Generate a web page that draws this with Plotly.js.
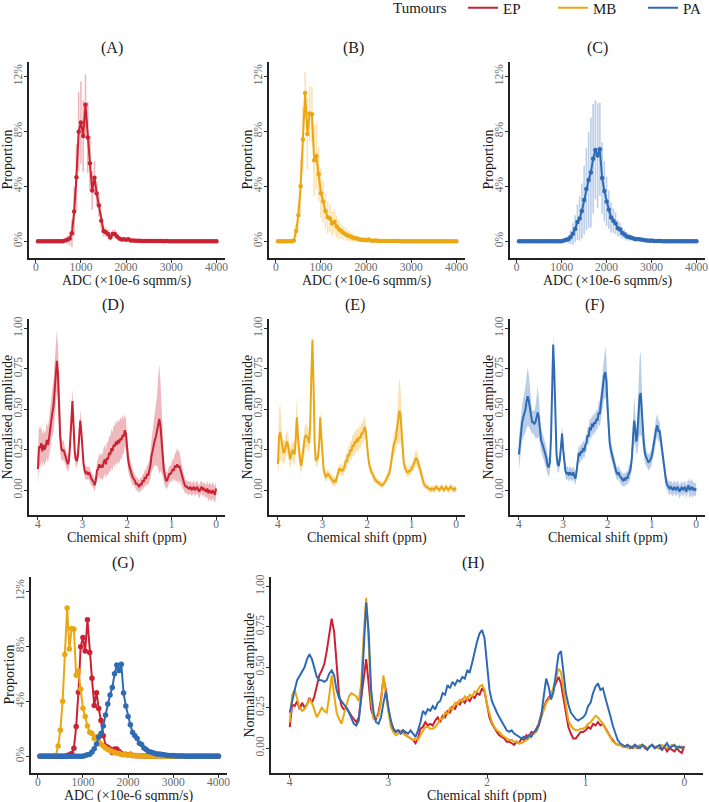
<!DOCTYPE html>
<html>
<head>
<meta charset="utf-8">
<script src="https://cdn.plot.ly/plotly-3.0.1.min.js"></script>
<style>
  html, body { margin: 0; padding: 0; background: #fff; }
  #chart { width: 709px; height: 802px; }
</style>
</head>
<body>
<div id="chart"></div>
<script>
// ---------- ADC histograms: bin centres (x10e-6 sqmm/s) ----------
const adcBins = Array.from({ length: 80 }, (_, i) => 50 * (i + 1));

// mean proportion per bin (%) and its spread (%), one row = 10 bins
const adcEP = [
  0, 0, 0, 0, 0, 0, 0, 0, 0, 0,
  0, 0, 0.05, 0.1, 0.2, 0.58, 2.16, 4.65, 7.98, 8.65,
  7.66, 9.94, 7.56, 5.67, 3.70, 4.63, 3.47, 2.60, 1.50, 0.75,
  0.65, 0.53, 0.27, 0.53, 0.53, 0.34, 0.20, 0.12, 0.15, 0.10,
  0.15, 0.06, 0.05, 0.04, 0.03, 0.03, 0.02, 0.02, 0.01, 0.01,
  0.01, 0.01, 0.01, 0.01, 0.02, 0.01, 0, 0.01, 0, 0,
  0, 0, 0, 0, 0, 0, 0, 0, 0, 0,
  0, 0, 0, 0, 0, 0, 0, 0, 0, 0
];
const adcEPsd = [
  0, 0, 0, 0, 0, 0, 0, 0, 0, 0,
  0, 0, 0.1, 0.3, 0.5, 1.0, 1.8, 2.4, 2.9, 3.0,
  2.6, 2.2, 2.6, 2.0, 1.4, 1.2, 0.9, 0.8, 0.6, 0.4,
  0.35, 0.3, 0.2, 0.3, 0.3, 0.2, 0.15, 0.1, 0.1, 0.1,
  0.1, 0.05, 0.05, 0.04, 0.03, 0.03, 0.02, 0.02, 0.01, 0.01,
  0.01, 0.01, 0.01, 0.01, 0.02, 0.01, 0, 0.01, 0, 0,
  0, 0, 0, 0, 0, 0, 0, 0, 0, 0,
  0, 0, 0, 0, 0, 0, 0, 0, 0, 0
];
const adcMB = [
  0, 0, 0, 0, 0, 0, 0, 0.05, 0.75, 1.9,
  4.0, 7.4, 10.8, 7.8, 9.3, 9.25, 5.9, 6.2, 4.9, 3.5,
  2.9, 2.2, 1.75, 1.65, 1.3, 1.42, 1.07, 0.87, 0.75, 0.6,
  0.5, 0.42, 0.35, 0.28, 0.22, 0.2, 0.13, 0.1, 0.1, 0.08,
  0.12, 0.05, 0.04, 0.05, 0.03, 0.02, 0.02, 0.02, 0.01, 0.01,
  0.01, 0.01, 0.01, 0.01, 0.01, 0, 0, 0, 0, 0,
  0, 0, 0, 0, 0, 0, 0, 0, 0, 0,
  0, 0, 0, 0, 0, 0, 0, 0, 0, 0
];
const adcMBsd = [
  0, 0, 0, 0, 0, 0, 0, 0.1, 0.5, 1.0,
  2.0, 2.4, 1.5, 2.6, 2.0, 2.0, 2.6, 2.4, 2.0, 1.8,
  1.5, 1.3, 1.2, 1.0, 0.9, 0.9, 0.8, 0.7, 0.6, 0.5,
  0.45, 0.4, 0.35, 0.3, 0.25, 0.2, 0.15, 0.12, 0.1, 0.1,
  0.1, 0.05, 0.05, 0.05, 0.03, 0.02, 0.02, 0.02, 0.01, 0.01,
  0.01, 0.01, 0.01, 0.01, 0.01, 0, 0, 0, 0, 0,
  0, 0, 0, 0, 0, 0, 0, 0, 0, 0,
  0, 0, 0, 0, 0, 0, 0, 0, 0, 0
];
const adcPA = [
  0, 0, 0, 0, 0, 0, 0, 0, 0, 0,
  0, 0, 0, 0, 0, 0, 0, 0, 0, 0,
  0.05, 0.1, 0.15, 0.3, 0.55, 0.9, 1.4, 1.65, 2.2, 3.0,
  3.8, 4.45, 5.0, 6.0, 6.65, 6.25, 6.7, 4.6, 3.65, 2.9,
  2.3, 1.73, 1.5, 1.3, 0.95, 0.85, 0.6, 0.5, 0.35, 0.3,
  0.25, 0.2, 0.15, 0.17, 0.12, 0.1, 0.07, 0.05, 0.03, 0.05,
  0.02, 0.01, 0.01, 0.01, 0, 0, 0, 0, 0, 0,
  0, 0, 0, 0, 0, 0, 0, 0, 0, 0
];
const adcPAsd = [
  0, 0, 0, 0, 0, 0, 0, 0, 0, 0,
  0, 0, 0, 0, 0, 0, 0, 0, 0, 0,
  0.1, 0.2, 0.3, 0.5, 0.8, 1.0, 1.3, 1.6, 2.0, 2.5,
  3.0, 3.5, 4.0, 4.0, 3.6, 3.8, 3.4, 2.6, 2.2, 1.8,
  1.4, 1.1, 0.9, 0.8, 0.6, 0.5, 0.4, 0.35, 0.3, 0.25,
  0.2, 0.15, 0.12, 0.12, 0.1, 0.08, 0.06, 0.05, 0.03, 0.04,
  0.02, 0.01, 0.01, 0.01, 0, 0, 0, 0, 0, 0,
  0, 0, 0, 0, 0, 0, 0, 0, 0, 0
];
const adcTickText = ['0%', '4%', '8%', '12%'];

// ---------- MR spectra: chemical shift grid (ppm), 4.0 -> 0.0 ----------
const shiftPpm = Array.from({ length: 161 }, (_, i) => +(4 - 0.025 * i).toFixed(3));

// mean normalised amplitude, one row = 0.25 ppm
const specEP = [
  0.13, 0.27, 0.26, 0.29, 0.24, 0.28, 0.25, 0.27, 0.31, 0.28,
  0.32, 0.38, 0.45, 0.48, 0.52, 0.60, 0.70, 0.80, 0.72, 0.52,
  0.33, 0.26, 0.24, 0.25, 0.22, 0.20, 0.18, 0.16, 0.19, 0.30,
  0.42, 0.55, 0.40, 0.24, 0.19, 0.18, 0.22, 0.30, 0.43, 0.36,
  0.24, 0.16, 0.12, 0.10, 0.11, 0.10, 0.11, 0.08, 0.07, 0.06,
  0.05, 0.03, 0.06, 0.12, 0.13, 0.16, 0.14, 0.15, 0.14, 0.17,
  0.19, 0.16, 0.20, 0.19, 0.23, 0.22, 0.26, 0.24, 0.28, 0.27,
  0.30, 0.28, 0.31, 0.29, 0.32, 0.31, 0.34, 0.33, 0.37, 0.35,
  0.26, 0.19, 0.15, 0.12, 0.10, 0.08, 0.07, 0.06, 0.04, 0.04,
  0.03, 0.02, 0.04, 0.03, 0.06, 0.05, 0.08, 0.07, 0.10, 0.09,
  0.12, 0.15, 0.21, 0.25, 0.29, 0.31, 0.33, 0.37, 0.41, 0.44,
  0.40, 0.30, 0.21, 0.13, 0.09, 0.06, 0.06, 0.08, 0.10, 0.10,
  0.11, 0.13, 0.12, 0.15, 0.14, 0.16, 0.14, 0.15, 0.12, 0.09,
  0.07, 0.05, 0.03, 0.02, 0.02, 0.01, 0.01, 0.02, 0.00, 0.01,
  0.02, 0.00, 0.01, 0.02, 0.00, -0.01, 0.01, 0.02, 0.00, 0.01,
  0.00, -0.01, 0.01, -0.02, 0.00, -0.01, -0.02, 0.00, -0.02, -0.03,
  0.01
];
const specEPsd = [
  0.10, 0.12, 0.12, 0.11, 0.10, 0.10, 0.10, 0.10, 0.11, 0.11,
  0.12, 0.13, 0.14, 0.15, 0.16, 0.17, 0.18, 0.19, 0.17, 0.14,
  0.10, 0.07, 0.06, 0.06, 0.05, 0.05, 0.05, 0.05, 0.05, 0.06,
  0.07, 0.08, 0.07, 0.05, 0.04, 0.04, 0.05, 0.06, 0.07, 0.06,
  0.05, 0.04, 0.04, 0.04, 0.04, 0.04, 0.04, 0.04, 0.04, 0.04,
  0.04, 0.04, 0.04, 0.05, 0.06, 0.07, 0.07, 0.08, 0.08, 0.09,
  0.09, 0.09, 0.10, 0.10, 0.11, 0.11, 0.12, 0.12, 0.12, 0.13,
  0.13, 0.13, 0.13, 0.13, 0.13, 0.12, 0.12, 0.11, 0.10, 0.09,
  0.08, 0.07, 0.06, 0.06, 0.05, 0.05, 0.04, 0.04, 0.04, 0.04,
  0.04, 0.04, 0.04, 0.04, 0.04, 0.05, 0.05, 0.05, 0.06, 0.06,
  0.07, 0.08, 0.10, 0.12, 0.14, 0.16, 0.18, 0.22, 0.28, 0.34,
  0.28, 0.20, 0.12, 0.08, 0.06, 0.05, 0.05, 0.05, 0.05, 0.05,
  0.06, 0.06, 0.07, 0.08, 0.09, 0.10, 0.10, 0.09, 0.08, 0.07,
  0.06, 0.05, 0.05, 0.04, 0.04, 0.04, 0.04, 0.04, 0.04, 0.04,
  0.04, 0.04, 0.04, 0.04, 0.04, 0.04, 0.04, 0.04, 0.04, 0.04,
  0.04, 0.04, 0.05, 0.05, 0.05, 0.05, 0.05, 0.05, 0.05, 0.05,
  0.05
];
const specMB = [
  0.16, 0.33, 0.36, 0.31, 0.25, 0.23, 0.24, 0.27, 0.30, 0.28,
  0.24, 0.19, 0.22, 0.25, 0.23, 0.22, 0.32, 0.45, 0.33, 0.22,
  0.18, 0.15, 0.21, 0.27, 0.32, 0.34, 0.33, 0.32, 0.29, 0.40,
  0.70, 0.93, 0.66, 0.29, 0.18, 0.19, 0.20, 0.28, 0.45, 0.33,
  0.22, 0.13, 0.10, 0.08, 0.09, 0.10, 0.09, 0.08, 0.07, 0.06,
  0.05, 0.06, 0.05, 0.08, 0.11, 0.13, 0.13, 0.12, 0.12, 0.13,
  0.15, 0.18, 0.18, 0.22, 0.21, 0.25, 0.24, 0.28, 0.27, 0.30,
  0.29, 0.32, 0.30, 0.33, 0.32, 0.35, 0.35, 0.38, 0.39, 0.36,
  0.27, 0.21, 0.16, 0.13, 0.11, 0.10, 0.08, 0.07, 0.06, 0.05,
  0.05, 0.04, 0.04, 0.03, 0.03, 0.04, 0.05, 0.06, 0.08, 0.09,
  0.10, 0.14, 0.19, 0.24, 0.28, 0.30, 0.32, 0.38, 0.44, 0.49,
  0.47, 0.36, 0.25, 0.17, 0.14, 0.12, 0.11, 0.11, 0.12, 0.12,
  0.13, 0.15, 0.16, 0.18, 0.20, 0.19, 0.17, 0.15, 0.12, 0.09,
  0.06, 0.04, 0.03, 0.02, 0.02, 0.01, 0.01, 0.00, 0.01, 0.01,
  0.00, 0.01, 0.02, 0.01, 0.01, 0.00, 0.01, 0.02, 0.01, 0.00,
  0.01, 0.02, 0.01, 0.00, 0.01, 0.02, 0.01, 0.01, 0.00, 0.01,
  0.00
];
const specMBsd = [
  0.08, 0.16, 0.18, 0.12, 0.08, 0.07, 0.07, 0.07, 0.07, 0.07,
  0.06, 0.06, 0.06, 0.06, 0.06, 0.07, 0.10, 0.14, 0.10, 0.07,
  0.06, 0.05, 0.06, 0.07, 0.07, 0.07, 0.07, 0.07, 0.06, 0.06,
  0.06, 0.05, 0.05, 0.04, 0.04, 0.04, 0.04, 0.04, 0.05, 0.04,
  0.04, 0.03, 0.03, 0.03, 0.03, 0.03, 0.03, 0.03, 0.03, 0.03,
  0.03, 0.03, 0.03, 0.03, 0.03, 0.03, 0.03, 0.03, 0.04, 0.04,
  0.04, 0.05, 0.05, 0.05, 0.06, 0.06, 0.06, 0.06, 0.07, 0.07,
  0.07, 0.07, 0.07, 0.07, 0.07, 0.07, 0.07, 0.07, 0.07, 0.06,
  0.05, 0.04, 0.04, 0.03, 0.03, 0.03, 0.03, 0.03, 0.02, 0.02,
  0.02, 0.02, 0.02, 0.02, 0.02, 0.02, 0.02, 0.02, 0.03, 0.03,
  0.03, 0.04, 0.05, 0.06, 0.07, 0.07, 0.08, 0.10, 0.15, 0.21,
  0.17, 0.10, 0.06, 0.04, 0.03, 0.03, 0.03, 0.03, 0.03, 0.03,
  0.03, 0.03, 0.04, 0.04, 0.05, 0.05, 0.04, 0.04, 0.03, 0.03,
  0.03, 0.03, 0.02, 0.02, 0.02, 0.02, 0.02, 0.02, 0.02, 0.02,
  0.02, 0.02, 0.02, 0.02, 0.02, 0.02, 0.02, 0.02, 0.02, 0.02,
  0.02, 0.02, 0.02, 0.02, 0.02, 0.02, 0.02, 0.02, 0.02, 0.02,
  0.02
];
const specPA = [
  0.22, 0.30, 0.36, 0.42, 0.45, 0.47, 0.50, 0.55, 0.58, 0.55,
  0.50, 0.44, 0.42, 0.42, 0.41, 0.42, 0.46, 0.48, 0.45, 0.36,
  0.31, 0.29, 0.27, 0.25, 0.22, 0.19, 0.15, 0.14, 0.17, 0.32,
  0.62, 0.90, 0.72, 0.36, 0.22, 0.16, 0.15, 0.19, 0.28, 0.35,
  0.25, 0.17, 0.12, 0.10, 0.11, 0.09, 0.11, 0.10, 0.09, 0.11,
  0.09, 0.07, 0.11, 0.16, 0.23, 0.21, 0.24, 0.23, 0.26, 0.24,
  0.28, 0.29, 0.34, 0.33, 0.39, 0.37, 0.41, 0.39, 0.42, 0.41,
  0.44, 0.43, 0.48, 0.47, 0.53, 0.60, 0.66, 0.71, 0.73, 0.68,
  0.52, 0.36, 0.29, 0.25, 0.22, 0.19, 0.16, 0.13, 0.11, 0.10,
  0.11, 0.09, 0.08, 0.07, 0.06, 0.07, 0.06, 0.08, 0.07, 0.10,
  0.11, 0.14, 0.20, 0.32, 0.43, 0.38, 0.30, 0.35, 0.47, 0.58,
  0.60, 0.46, 0.34, 0.27, 0.22, 0.20, 0.18, 0.17, 0.18, 0.19,
  0.21, 0.26, 0.28, 0.34, 0.38, 0.40, 0.36, 0.37, 0.31, 0.26,
  0.20, 0.14, 0.09, 0.05, 0.03, 0.02, 0.01, 0.02, 0.01, 0.00,
  0.02, 0.01, 0.00, 0.02, 0.01, -0.01, 0.01, 0.02, 0.00, 0.01,
  0.02, -0.01, 0.01, 0.03, 0.00, 0.01, 0.02, 0.00, 0.01, 0.00,
  0.01
];
const specPAsd = [
  0.10, 0.10, 0.10, 0.11, 0.12, 0.13, 0.14, 0.16, 0.18, 0.16,
  0.12, 0.08, 0.07, 0.07, 0.08, 0.10, 0.14, 0.16, 0.12, 0.08,
  0.07, 0.07, 0.07, 0.07, 0.07, 0.07, 0.06, 0.06, 0.06, 0.06,
  0.06, 0.06, 0.06, 0.05, 0.05, 0.05, 0.04, 0.04, 0.05, 0.05,
  0.05, 0.04, 0.04, 0.04, 0.04, 0.04, 0.04, 0.04, 0.04, 0.04,
  0.04, 0.04, 0.04, 0.04, 0.05, 0.05, 0.05, 0.05, 0.05, 0.05,
  0.05, 0.05, 0.05, 0.05, 0.06, 0.06, 0.06, 0.06, 0.06, 0.06,
  0.06, 0.06, 0.07, 0.08, 0.09, 0.10, 0.12, 0.14, 0.16, 0.14,
  0.10, 0.07, 0.06, 0.05, 0.05, 0.05, 0.04, 0.04, 0.04, 0.04,
  0.04, 0.04, 0.04, 0.04, 0.04, 0.04, 0.04, 0.04, 0.04, 0.05,
  0.05, 0.05, 0.07, 0.10, 0.15, 0.10, 0.08, 0.12, 0.18, 0.24,
  0.26, 0.14, 0.08, 0.06, 0.06, 0.05, 0.05, 0.05, 0.05, 0.05,
  0.05, 0.05, 0.06, 0.06, 0.07, 0.07, 0.07, 0.06, 0.06, 0.05,
  0.05, 0.05, 0.04, 0.04, 0.04, 0.04, 0.04, 0.04, 0.04, 0.04,
  0.04, 0.04, 0.04, 0.04, 0.04, 0.04, 0.04, 0.04, 0.04, 0.04,
  0.04, 0.04, 0.04, 0.04, 0.05, 0.05, 0.05, 0.05, 0.04, 0.04,
  0.04
];

const tumours = ['EP', 'MB', 'PA'];
const panelLetters = ['(A)', '(B)', '(C)', '(D)', '(E)', '(F)', '(G)', '(H)'];

// ---------- styling ----------
const FONT = '"Liberation Serif", "DejaVu Serif", serif';
const COLOR = { EP: '#CB2233', MB: '#EBA713', PA: '#2F6BB5' };
const SOFT = { EP: 'rgba(203,34,51,0.32)', MB: 'rgba(235,167,19,0.32)', PA: 'rgba(47,107,181,0.33)' };

const ADC = { EP: [adcEP, adcEPsd], MB: [adcMB, adcMBsd], PA: [adcPA, adcPAsd] };
const SPEC = { EP: [specEP, specEPsd], MB: [specMB, specMBsd], PA: [specPA, specPAsd] };

const W = 709, H = 802;
const px = v => v / W;
const py = v => 1 - v / H;

// plot boxes in pixels: [left, right, top, bottom]
const boxes = [
  [29, 225, 62, 258], [269, 465, 62, 258], [510, 705, 62, 258],
  [29, 225, 319, 515], [269, 465, 319, 515], [510, 705, 319, 515],
  [31, 227, 577, 773], [271, 703, 577, 773]
];
const titleCentres = [112, 353, 597, 113, 355, 595, 123, 473];

const traces = [];

// A-C: ADC histograms with spread bars
tumours.forEach((t, k) => {
  const ax = k + 1;
  const [m, s] = ADC[t];
  traces.push({
    x: adcBins, y: m, xaxis: 'x' + ax, yaxis: 'y' + ax, type: 'scatter', mode: 'markers',
    marker: { size: 1, color: 'rgba(0,0,0,0)' },
    error_y: { type: 'data', array: s, visible: true, color: SOFT[t], thickness: 1.6, width: 0 },
    showlegend: false, hoverinfo: 'skip'
  });
  traces.push({
    x: adcBins, y: m, xaxis: 'x' + ax, yaxis: 'y' + ax, type: 'scatter', mode: 'lines+markers',
    line: { color: COLOR[t], width: 2 }, marker: { color: COLOR[t], size: 4.5 },
    showlegend: false, name: t
  });
});

// D-F: mean spectra with spread bands
tumours.forEach((t, k) => {
  const ax = k + 4;
  const [m, s] = SPEC[t];
  traces.push({
    x: shiftPpm, y: m.map((v, i) => v - s[i]), xaxis: 'x' + ax, yaxis: 'y' + ax,
    type: 'scatter', mode: 'lines', line: { width: 0, color: SOFT[t] },
    showlegend: false, hoverinfo: 'skip'
  });
  traces.push({
    x: shiftPpm, y: m.map((v, i) => v + s[i]), xaxis: 'x' + ax, yaxis: 'y' + ax,
    type: 'scatter', mode: 'lines', line: { width: 0, color: SOFT[t] },
    fill: 'tonexty', fillcolor: SOFT[t], showlegend: false, hoverinfo: 'skip'
  });
  traces.push({
    x: shiftPpm, y: m, xaxis: 'x' + ax, yaxis: 'y' + ax, type: 'scatter', mode: 'lines',
    line: { color: COLOR[t], width: 2 }, showlegend: false, name: t
  });
});

// G: all ADC histograms together
tumours.forEach(t => {
  traces.push({
    x: adcBins, y: ADC[t][0], xaxis: 'x7', yaxis: 'y7', type: 'scatter', mode: 'lines+markers',
    line: { color: COLOR[t], width: 2 }, marker: { color: COLOR[t], size: 5.5 },
    showlegend: false, name: t
  });
});

// H: all mean spectra together (these carry the legend)
tumours.forEach(t => {
  traces.push({
    x: shiftPpm, y: SPEC[t][0], xaxis: 'x8', yaxis: 'y8', type: 'scatter', mode: 'lines',
    line: { color: COLOR[t], width: 2 }, showlegend: true, name: t
  });
});

// ---------- axes ----------
const baseAxis = {
  showline: true, linecolor: '#222', linewidth: 1.6, mirror: false,
  ticks: 'outside', ticklen: 3, tickwidth: 1, tickcolor: '#333',
  showgrid: false, zeroline: false, fixedrange: true, automargin: false,
  tickfont: { family: FONT, size: 11.5, color: '#6a6a6a' }
};
const layout = {
  width: W, height: H,
  margin: { l: 0, r: 0, t: 0, b: 0, autoexpand: false },
  paper_bgcolor: '#fff', plot_bgcolor: '#fff',
  font: { family: FONT, size: 14, color: '#1a1a1a' },
  showlegend: true,
  legend: {
    orientation: 'h', x: px(463), y: py(8), xanchor: 'left', yanchor: 'middle',
    traceorder: 'normal', entrywidth: 45,
    font: { family: FONT, size: 15, color: '#1a1a1a' },
    bgcolor: 'rgba(0,0,0,0)', itemwidth: 30, tracegroupgap: 0
  },
  annotations: [{
    // legend heading
    text: 'Tumours', xref: 'paper', yref: 'paper', x: px(391), y: py(8),
    xanchor: 'left', yanchor: 'middle', showarrow: false,
    font: { family: FONT, size: 15, color: '#1a1a1a' }
  }],
  hovermode: false
};

boxes.forEach((b, i) => {
  const n = i + 1;
  const isAdc = (i < 3 || i === 6);
  const xa = Object.assign({}, baseAxis, {
    domain: [px(b[0]), px(b[1])], anchor: 'y' + n, ticklabelstandoff: -5
  });
  const ya = Object.assign({}, baseAxis, {
    domain: [py(b[3]), py(b[2])], anchor: 'x' + n, tickangle: -90, ticklabelstandoff: -2
  });
  if (isAdc) {
    Object.assign(xa, { range: [-150, 4190], tickvals: [0, 1000, 2000, 3000, 4000] });
    Object.assign(ya, { range: [-1.22, 13.05], tickvals: [0, 4, 8, 12], ticktext: adcTickText });
  } else {
    const pad = i === 7 ? 0.19 : 0.2;
    Object.assign(xa, { range: [4 + pad, -pad], tickvals: [0, 1, 2, 3, 4] });
    Object.assign(ya, { range: [-0.154, 1.058], tickvals: [0, 0.25, 0.5, 0.75, 1], tickformat: '.2f' });
  }
  layout['xaxis' + n] = xa;
  layout['yaxis' + n] = ya;

  // panel letter
  layout.annotations.push({
    text: panelLetters[i], xref: 'paper', yref: 'paper',
    x: px(titleCentres[i]), y: py(b[2] - 14), xanchor: 'center', yanchor: 'middle',
    showarrow: false, font: { family: FONT, size: 16, color: '#1a1a1a' }
  });
  // axis titles
  layout.annotations.push({
    text: isAdc ? 'ADC (×10e-6 sqmm/s)' : 'Chemical shift (ppm)',
    xref: 'paper', yref: 'paper', x: px((b[0] + b[1]) / 2), y: py(b[3] + 23),
    xanchor: 'center', yanchor: 'middle', showarrow: false,
    font: { family: FONT, size: 14, color: '#1a1a1a' }
  });
  layout.annotations.push({
    text: isAdc ? 'Proportion' : 'Normalised amplitude',
    xref: 'paper', yref: 'paper', x: px(b[0] - 22.5), y: py((b[2] + b[3]) / 2),
    xanchor: 'center', yanchor: 'middle', textangle: -90, showarrow: false,
    font: { family: FONT, size: 14, color: '#1a1a1a' }
  });
});

Plotly.newPlot('chart', traces, layout, { staticPlot: true, displayModeBar: false });
</script>
</body>
</html>
